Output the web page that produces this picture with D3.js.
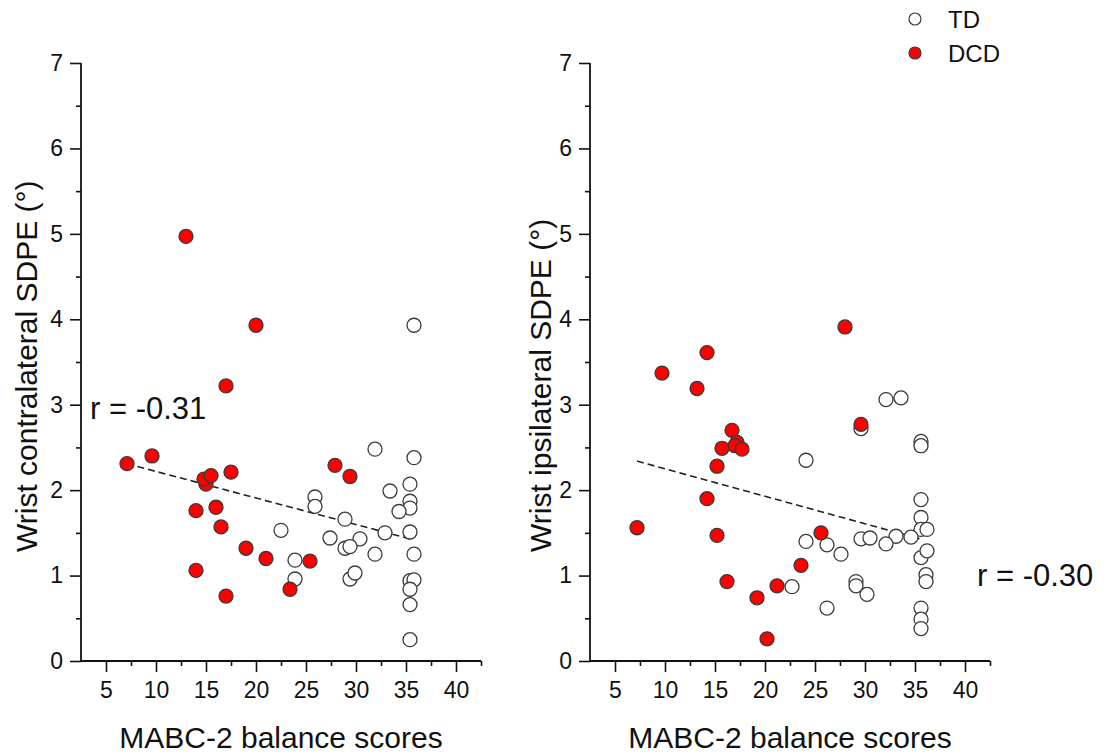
<!DOCTYPE html>
<html>
<head>
<meta charset="utf-8">
<script src="https://cdn.jsdelivr.net/npm/d3@7"></script>
<style>
  html, body { margin: 0; padding: 0; background: #fff; }
  svg { display: block; }
  text { font-family: "Liberation Sans", Arial, sans-serif; fill: #111; }
</style>
</head>
<body>
<script>
// ---------- data ----------
const groups = ["TD", "DCD"];
const xTicks = [5, 10, 15, 20, 25, 30, 35, 40];
const yTicks = [0, 1, 2, 3, 4, 5, 6, 7];

// Left panel: wrist contralateral SDPE
const leftDCD_x = [13.0, 20.0, 17.0, 7.1, 9.6, 15.0, 14.8, 15.5, 17.5, 14.0, 16.0, 16.5, 19.0, 21.0, 25.4, 14.0, 23.4, 17.0, 27.9, 29.4];
const leftDCD_y = [4.97, 3.93, 3.22, 2.31, 2.40, 2.07, 2.13, 2.17, 2.21, 1.76, 1.80, 1.57, 1.32, 1.20, 1.17, 1.06, 0.84, 0.76, 2.29, 2.16];
const leftTD_x = [35.8, 31.9, 35.8, 35.4, 33.4, 35.4, 35.4, 34.3, 25.9, 25.9, 28.9, 32.9, 35.4, 22.5, 27.4, 30.4, 28.9, 29.4, 31.9, 35.8, 23.9, 23.9, 29.4, 29.9, 35.4, 35.8, 35.4, 35.4, 35.4];
const leftTD_y = [3.93, 2.48, 2.38, 2.07, 1.99, 1.87, 1.79, 1.75, 1.92, 1.81, 1.66, 1.50, 1.51, 1.53, 1.44, 1.43, 1.32, 1.34, 1.25, 1.25, 1.18, 0.96, 0.96, 1.03, 0.94, 0.95, 0.84, 0.66, 0.25];
const leftFit_x = [7.07, 35.7];
const leftFit_y = [2.31, 1.42];

// Right panel: wrist ipsilateral SDPE
const rightDCD_x = [28.0, 14.2, 9.7, 13.2, 16.7, 17.2, 17.0, 15.7, 17.7, 15.2, 14.2, 7.2, 15.2, 25.6, 23.6, 16.2, 21.2, 19.2, 20.2, 29.6];
const rightDCD_y = [3.91, 3.61, 3.37, 3.19, 2.70, 2.56, 2.52, 2.49, 2.48, 2.28, 1.90, 1.56, 1.47, 1.50, 1.12, 0.93, 0.88, 0.74, 0.26, 2.77];
const rightTD_x = [32.1, 33.6, 29.6, 35.6, 35.6, 24.1, 35.6, 35.6, 35.6, 36.2, 33.1, 34.6, 32.1, 29.6, 30.5, 24.1, 26.2, 27.6, 35.6, 36.2, 36.1, 36.1, 29.1, 29.1, 30.2, 22.7, 26.2, 35.6, 35.6, 35.6];
const rightTD_y = [3.06, 3.08, 2.72, 2.57, 2.52, 2.35, 1.89, 1.68, 1.54, 1.54, 1.46, 1.45, 1.37, 1.43, 1.44, 1.40, 1.36, 1.25, 1.21, 1.29, 1.01, 0.93, 0.93, 0.88, 0.78, 0.87, 0.62, 0.62, 0.49, 0.38];
const rightFit_x = [7.2, 35.8];
const rightFit_y = [2.34, 1.42];

const panels = [
  { yLabel: "Wrist contralateral SDPE (°)", r: "r = -0.31",
    tdX: leftTD_x, tdY: leftTD_y, dcdX: leftDCD_x, dcdY: leftDCD_y, fitX: leftFit_x, fitY: leftFit_y },
  { yLabel: "Wrist ipsilateral SDPE (°)", r: "r = -0.30",
    tdX: rightTD_x, tdY: rightTD_y, dcdX: rightDCD_x, dcdY: rightDCD_y, fitX: rightFit_x, fitY: rightFit_y }
];

// ---------- layout ----------
const W = 1110, H = 755;
const svg = d3.select("body").append("svg").attr("width", W).attr("height", H);

const layout = [
  { x0: 81, x1: 481, labelX: 37, rX: 90, rY: 419 },
  { x0: 590, x1: 990, labelX: 551, rX: 977, rY: 586 }
];
const yTop = 63, yBot = 661;
const fill = { TD: "#ffffff", DCD: "#ff0000" };

panels.forEach((p, i) => {
  const L = layout[i];
  const x = d3.scaleLinear().domain([2.5, 42.5]).range([L.x0, L.x1]);
  const y = d3.scaleLinear().domain([0, 7]).range([yBot, yTop]);
  const g = svg.append("g");

  // y axis
  g.append("g").attr("transform", `translate(${L.x0},0)`)
    .call(d3.axisLeft(y).tickValues(yTicks).tickFormat(d3.format("d")).tickSize(11).tickPadding(7))
    .call(s => s.select(".domain").remove());
  g.append("g").attr("transform", `translate(${L.x0},0)`)
    .call(d3.axisLeft(y).tickValues(d3.range(0.5, 7, 1)).tickFormat("").tickSize(5))
    .call(s => s.select(".domain").remove());

  // x axis
  g.append("g").attr("transform", `translate(0,${yBot})`)
    .call(d3.axisBottom(x).tickValues(xTicks).tickFormat(d3.format("d")).tickSize(11).tickPadding(10))
    .call(s => s.select(".domain").remove());
  g.append("g").attr("transform", `translate(0,${yBot})`)
    .call(d3.axisBottom(x).tickValues(d3.range(7.5, 43, 5)).tickFormat("").tickSize(5))
    .call(s => s.select(".domain").remove());

  g.selectAll(".tick line").attr("stroke", "#111").attr("stroke-width", 1.6);
  g.selectAll(".tick text").style("font-size", "23px")
    .style("font-family", "'Liberation Sans', Arial, sans-serif").attr("fill", "#111");

  // axis lines
  g.append("line").attr("x1", L.x0).attr("x2", L.x0).attr("y1", y(7)).attr("y2", y(0))
    .attr("stroke", "#111").attr("stroke-width", 1.8);
  g.append("line").attr("x1", x(2.5)).attr("x2", x(42.5)).attr("y1", yBot).attr("y2", yBot)
    .attr("stroke", "#111").attr("stroke-width", 1.8);

  // labels
  g.append("text").attr("transform", `translate(${L.labelX},552) rotate(-90)`)
    .attr("text-anchor", "start").style("font-size", "30px").text(p.yLabel);
  g.append("text").attr("x", (L.x0 + L.x1) / 2).attr("y", 748)
    .attr("text-anchor", "middle").style("font-size", "30px").text("MABC-2 balance scores");

  // fit line
  const fit = p.fitX.map((v, k) => [v, p.fitY[k]]);
  g.append("path").datum(fit)
    .attr("d", d3.line().x(d => x(d[0])).y(d => y(d[1])))
    .attr("fill", "none").attr("stroke", "#222").attr("stroke-width", 1.6)
    .attr("stroke-dasharray", "7,4");

  // points
  const td = p.tdX.map((v, k) => ({ x: v, y: p.tdY[k], g: "TD" }));
  const dcd = p.dcdX.map((v, k) => ({ x: v, y: p.dcdY[k], g: "DCD" }));
  g.selectAll("circle.pt").data(td.concat(dcd)).enter().append("circle")
    .attr("class", "pt")
    .attr("cx", d => x(d.x)).attr("cy", d => y(d.y)).attr("r", 7)
    .attr("fill", d => fill[d.g]).attr("stroke", "#3a3a3a").attr("stroke-width", 1.3);

  // r text
  g.append("text").attr("x", L.rX).attr("y", L.rY).attr("text-anchor", "start")
    .style("font-size", "31px").text(p.r);
});

// legend
const leg = svg.append("g");
groups.forEach((gname, k) => {
  const cy = 19 + k * 34;
  leg.append("circle").attr("cx", 915).attr("cy", cy).attr("r", 6)
    .attr("fill", fill[gname]).attr("stroke", "#3a3a3a").attr("stroke-width", 1.2);
  leg.append("text").attr("x", 948).attr("y", cy + 9).style("font-size", "24px").text(gname);
});
</script>
</body>
</html>
